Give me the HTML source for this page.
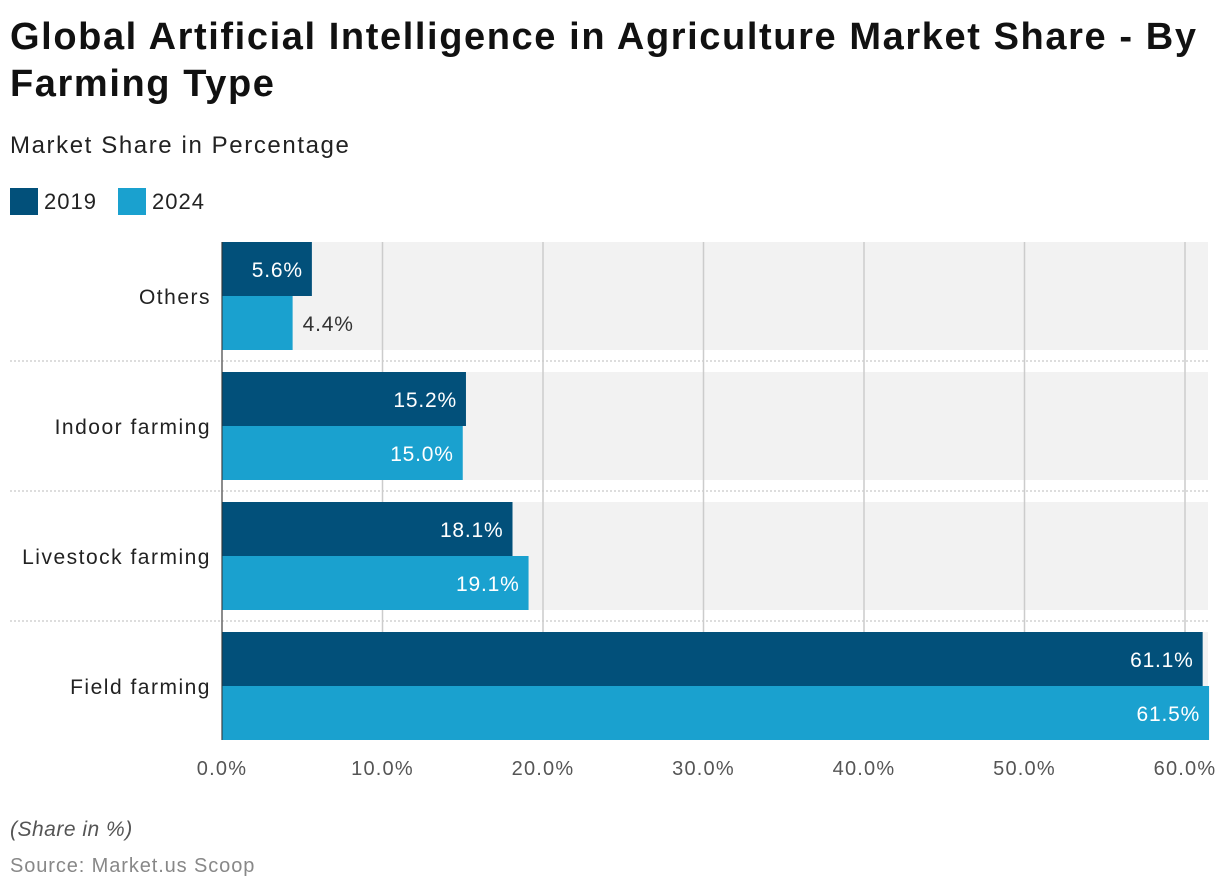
<!DOCTYPE html>
<html><head><meta charset="utf-8"><style>
body{margin:0;width:1220px;height:892px;background:#fff;font-family:"Liberation Sans",Roboto,sans-serif;overflow:hidden;position:relative}
.t{position:absolute;left:10px;top:14px;font-size:38px;font-weight:bold;color:#111;line-height:47px;width:1215px;letter-spacing:1.6px}
.s{position:absolute;left:10px;top:132px;font-size:24px;color:#222;letter-spacing:1.6px}
.lg{position:absolute;top:188px;font-size:22px;color:#222;display:flex;align-items:center;letter-spacing:1px}
.lg i{display:inline-block;width:28px;height:27px;margin-right:6px}
.f1{position:absolute;left:10px;top:818px;font-size:21px;font-style:italic;color:#555;letter-spacing:0.5px}
.f2{position:absolute;left:10px;top:855px;font-size:20px;color:#888;letter-spacing:0.9px}
svg text{font-family:"Liberation Sans",sans-serif}
</style></head><body>
<div class="t">Global Artificial Intelligence in Agriculture Market Share - By Farming Type</div>
<div class="s">Market Share in Percentage</div>
<div class="lg" style="left:10px"><i style="background:#02507a"></i>2019</div>
<div class="lg" style="left:118px"><i style="background:#1aa1cf"></i>2024</div>
<svg id="c" width="1220" height="892" style="position:absolute;left:0;top:0"></svg>
<div class="f1">(Share in %)</div>
<div class="f2">Source: Market.us Scoop</div>
<script>
const categories=["Others","Indoor farming","Livestock farming","Field farming"];
const values2019=[5.6,15.2,18.1,61.1];
const values2024=[4.4,15.0,19.1,61.5];
const ticks=[0,10,20,30,40,50,60];
const svg=document.getElementById('c');const NS="http://www.w3.org/2000/svg";
const x0=222,sc=16.05,top0=242,step=130,bh=54;
const X=v=>x0+v*sc;
function mk(t,a,txt){const e=document.createElementNS(NS,t);for(const k in a)e.setAttribute(k,a[k]);if(txt!=null)e.textContent=txt;svg.appendChild(e);return e;}
categories.forEach((c,i)=>{const y=top0+i*step;
 const b=mk('rect',{x:x0,y:y,width:1208-x0,height:108,fill:'#f2f2f2'});
 
 
 if(i>0){const l=mk('line',{x1:10,x2:1208,y1:y-11,y2:y-11,stroke:'#bbb','stroke-dasharray':'2,2'});
 
 }
});
ticks.forEach(t=>{const l=mk('line',{x1:X(t),x2:X(t),y1:242,y2:740,stroke:'#ccc','stroke-width':1.5});
 
 
 const tx=mk('text',{x:X(t),y:775,'text-anchor':'middle','font-size':20,fill:'#555','letter-spacing':1.2},t.toFixed(1)+'%');
 
 
});
categories.forEach((c,i)=>{const y=top0+i*step;
 const tx=mk('text',{x:211,y:y+62,'text-anchor':'end','font-size':21,fill:'#222','letter-spacing':1.5},c);
 
 
 [[values2019[i],'#02507a',0],[values2024[i],'#1aa1cf',1]].forEach(([v,col,k])=>{
  const by=y+k*bh,w=v*sc;
  const r=mk('rect',{x:x0,y:by,width:w,height:bh,fill:col});
  
  
  const inside=w>80;
  const lb=mk('text',{x:inside?X(v)-9:X(v)+10,y:by+35,'text-anchor':inside?'end':'start','font-size':21,fill:inside?'#fff':'#333','letter-spacing':0.8},v.toFixed(1)+'%');
  
  
 });
});
const ax=mk('line',{x1:x0,x2:x0,y1:242,y2:740,stroke:'#333','stroke-width':1});


</script>
</body></html>
